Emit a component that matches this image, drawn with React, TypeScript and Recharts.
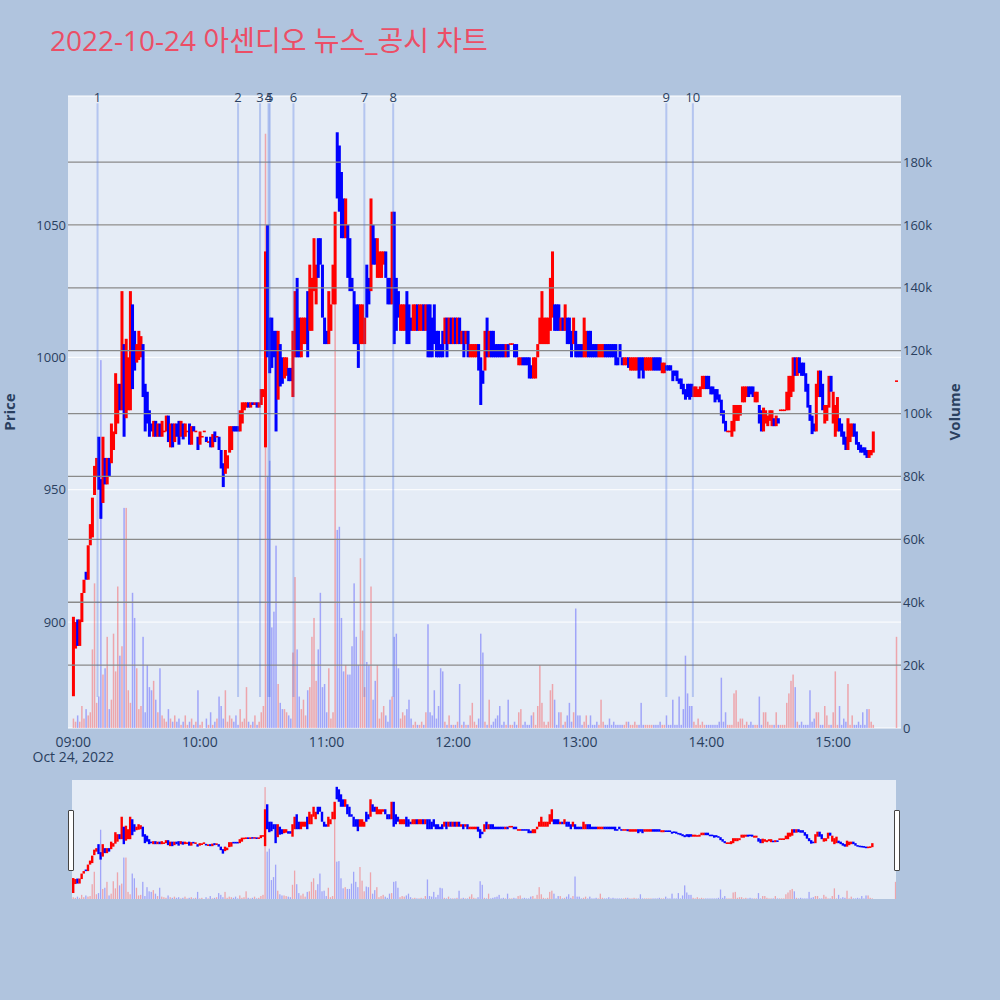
import React from "react"
import {
  ComposedChart,
  Bar,
  XAxis,
  YAxis,
  CartesianGrid,
  ReferenceLine,
} from "recharts"

const RED = "#ff0000"
const BLUE = "#0000ff"
const INK = "#2a3f5f"
const FONT = '"Open Sans", verdana, arial, sans-serif'
const TITLE_FONT = '"Open Sans", "Noto Sans CJK KR", sans-serif'

// 1-minute candles from 09:00 (index = minutes after 09:00)
const opens = [
  872, 890, 901, 891, 900, 911, 919, 916, 929, 932,
  948, 955, 970, 954, 945, 962, 952, 962, 960, 965,
  971, 975, 990, 980, 1005, 977, 980, 980, 1020, 1010,
  998, 999, 1000, 1005, 990, 987, 980, 975, 970, 976,
  970, 975, 970, 972, 972, 978, 966, 975, 968, 975,
  976, 970, 975, 970, 972, 975, 967, 974, 972, 970,
  967, 970, 972, 970, 968, 970, 966, 972, 970, 970,
  965, 960, 956, 958, 964, 965, 974, 974, 974, 972,
  975, 980, 981, 983, 981, 983, 982, 983, 981, 982,
  985, 966, 1050, 1015, 1015, 1010, 1010, 984, 1005, 1000,
  992, 993, 996, 996, 985, 1000, 1030, 1015, 1000, 1005,
  1005, 1025, 1010, 1010, 1025, 1020, 1045, 1045, 1035, 1015,
  1010, 1005, 1010, 1020, 1020, 1085, 1080, 1070, 1060, 1045,
  1050, 1045, 1030, 1025, 1020, 1020, 1005, 1005, 1005, 1035,
  1030, 1025, 1050, 1045, 1030, 1030, 1030, 1035, 1040, 1030,
  1030, 1020, 1055, 1030, 1025, 1010, 1010, 1010, 1025, 1020,
  1015, 1010, 1010, 1020, 1010, 1010, 1020, 1010, 1020, 1020,
  1015, 1020, 1010, 1010, 1005, 1010, 1005, 1015, 1005, 1015,
  1005, 1015, 1005, 1015, 1005, 1010, 1005, 1010, 1000, 1000,
  1000, 1000, 1005, 1000, 995, 995, 1015, 1000, 1010, 1010,
  1005, 1005, 1005, 1005, 1005, 1000, 1005, 1005, 1005, 1005,
  1005, 997, 997, 1000, 1000, 1000, 1000, 997, 992, 992,
  1000, 1005, 1005, 1005, 1005, 1005, 1010, 1015, 1020, 1020,
  1020, 1010, 1015, 1010, 1015, 1015, 1010, 1005, 1010, 1005,
  1005, 1005, 1000, 1000, 1010, 1010, 1005, 1005, 1005, 1000,
  1000, 1000, 1005, 1005, 1005, 1005, 1005, 1005, 1000, 1005,
  1000, 997, 997, 1000, 995, 995, 995, 995, 1000, 1000,
  1000, 995, 995, 995, 995, 1000, 1000, 1000, 1000, 994,
  994, 997, 997, 997, 995, 995, 995, 992, 992, 990,
  988, 990, 990, 990, 985, 985, 985, 985, 988, 988,
  993, 993, 989, 989, 988, 988, 986, 984, 980, 976,
  972, 972, 970, 972, 976, 976, 978, 983, 983, 985,
  989, 989, 989, 983, 983, 982, 980, 972, 975, 974,
  976, 974, 977, 974, 977, 980, 980, 980, 980, 980,
  985, 987, 1000, 993, 1000, 998, 998, 994, 990, 982,
  978, 975, 972, 985, 995, 990, 975, 976, 981, 993,
  975, 970, 972, 977, 975, 972, 970, 965, 968, 970,
  975, 972, 968, 967, 966, 966, 965, 962, 963, 964,
]
const closes = [
  902, 900, 891, 901, 911, 916, 916, 929, 937, 947,
  959, 962, 950, 939, 970, 952, 962, 955, 975, 972,
  994, 990, 980, 1025, 970, 1007, 1000, 1025, 988, 995,
  1005, 1010, 1008, 985, 972, 975, 970, 972, 976, 970,
  975, 970, 976, 972, 978, 968, 975, 966, 975, 970,
  967, 976, 969, 975, 972, 967, 974, 972, 972, 965,
  972, 970, 972, 968, 968, 966, 971, 968, 970, 965,
  958, 951, 965, 963, 974, 974, 972, 972, 972, 980,
  983, 983, 983, 981, 983, 982, 983, 981, 983, 988,
  988, 1040, 1000, 994, 996, 1000, 972, 1010, 989, 990,
  1000, 1000, 991, 991, 1010, 1025, 1000, 1000, 1015, 1015,
  1015, 1000, 1035, 1030, 1045, 1035, 1030, 1035, 1015, 1005,
  1005, 1025, 1020, 1035, 1055, 1060, 1055, 1045, 1045, 1060,
  1030, 1025, 1025, 1005, 1005, 996, 1020, 1020, 1015, 1015,
  1020, 1060, 1035, 1035, 1045, 1040, 1040, 1040, 1030, 1020,
  1020, 1055, 1005, 1010, 1015, 1020, 1020, 1020, 1005, 1005,
  1010, 1020, 1020, 1010, 1020, 1020, 1010, 1020, 1000, 1000,
  1000, 1005, 1000, 1000, 1000, 1000, 1015, 1000, 1015, 1005,
  1015, 1005, 1015, 1005, 1010, 1000, 1010, 1000, 1005, 1005,
  1005, 1005, 995, 982, 990, 1010, 1000, 1010, 1000, 1000,
  1000, 1000, 1000, 1000, 1000, 1005, 1000, 1005, 1005, 1000,
  1000, 1000, 1000, 997, 997, 997, 992, 992, 1000, 1000,
  1005, 1015, 1025, 1015, 1015, 1015, 1030, 1040, 1010, 1010,
  1010, 1015, 1010, 1020, 1005, 1005, 1000, 1015, 1000, 1000,
  1000, 1000, 1015, 1010, 1000, 1000, 1000, 1000, 1000, 1005,
  1005, 1005, 1000, 1000, 1000, 1000, 1000, 997, 997, 1000,
  997, 1000, 1000, 996, 1000, 1000, 1000, 1000, 992, 995,
  992, 1000, 1000, 1000, 1000, 995, 995, 995, 995, 998,
  998, 995, 995, 995, 991, 993, 991, 990, 988, 986,
  984, 985, 984, 985, 989, 989, 988, 989, 993, 993,
  988, 988, 986, 986, 983, 984, 983, 978, 975, 972,
  972, 972, 976, 982, 982, 982, 982, 989, 989, 989,
  985, 986, 985, 987, 987, 975, 972, 981, 980, 978,
  980, 980, 974, 978, 975, 980, 980, 980, 987, 993,
  993, 1000, 993, 1000, 994, 993, 993, 987, 981, 976,
  971, 972, 990, 995, 985, 980, 982, 982, 993, 987,
  987, 982, 985, 972, 970, 967, 965, 977, 975, 975,
  970, 967, 965, 964, 964, 963, 962, 965, 965, 972,
]

// volume per minute, thousands of shares
const volumesK = [
  3, 2, 4, 2, 7, 3, 6, 4, 5, 25,
  46, 8, 10, 117, 17, 19, 29, 6, 9, 30,
  18, 45, 23, 26, 70, 70, 12, 8, 43, 35,
  19, 6, 7, 29, 5, 20, 13, 12, 15, 9,
  5, 19, 4, 3, 2, 6, 3, 2, 4, 2,
  3, 1, 2, 4, 1, 2, 3, 1, 2, 12,
  1, 2, 0, 3, 1, 5, 1, 2, 3, 10,
  7, 3, 12, 2, 4, 3, 2, 4, 1, 6,
  2, 3, 13, 2, 1, 2, 4, 1, 2, 5,
  7, 189, 80, 85, 32, 37, 58, 14, 8, 6,
  6, 5, 4, 3, 24, 48, 25, 10, 6, 9,
  4, 12, 13, 29, 35, 15, 25, 43, 13, 14,
  5, 19, 3, 5, 149, 63, 64, 35, 18, 20,
  17, 17, 26, 46, 29, 20, 54, 31, 13, 21,
  20, 45, 9, 15, 20, 3, 5, 7, 4, 2,
  9, 10, 29, 30, 19, 3, 5, 4, 6, 9,
  3, 1, 2, 1, 1, 2, 1, 5, 33, 5,
  4, 12, 3, 7, 19, 18, 2, 1, 4, 1,
  1, 1, 2, 14, 1, 2, 1, 1, 4, 8,
  2, 1, 3, 30, 24, 2, 1, 9, 1, 2,
  3, 4, 7, 1, 2, 1, 9, 1, 1, 2,
  1, 5, 6, 1, 2, 1, 1, 4, 5, 1,
  7, 20, 8, 2, 1, 2, 12, 14, 9, 1,
  5, 5, 1, 2, 4, 8, 2, 5, 38, 4,
  4, 1, 2, 4, 1, 4, 1, 1, 2, 1,
  9, 2, 1, 1, 3, 1, 2, 1, 1, 1,
  1, 1, 2, 2, 1, 1, 2, 1, 1, 8,
  1, 1, 1, 1, 1, 1, 1, 1, 2, 1,
  1, 4, 1, 1, 9, 1, 1, 10, 1, 6,
  23, 11, 7, 7, 2, 1, 3, 1, 2, 1,
  1, 1, 1, 1, 1, 1, 2, 16, 2, 5,
  1, 1, 1, 11, 12, 2, 3, 3, 1, 2,
  1, 2, 1, 1, 1, 10, 1, 5, 5, 2,
  1, 1, 1, 5, 1, 1, 1, 1, 8, 11,
  15, 17, 13, 2, 1, 2, 1, 1, 1, 12,
  2, 3, 5, 5, 1, 1, 7, 4, 1, 1,
  5, 18, 1, 7, 1, 3, 2, 14, 1, 4,
  1, 1, 2, 1, 5, 1, 6, 6, 2, 1,
]

const closingAuction = { time: "15:30", price: 991, volumeK: 29 }

const newsTimes = [
  "09:11:30", "10:18:05", "10:28:30", "10:32:30", "10:33:05",
  "10:44:20", "11:17:55", "11:31:35", "13:41:00", "13:53:35",
]
const newsLabels = ["1", "2", "3", "4", "5", "6", "7", "8", "9", "10"]

const timeTicks = ["09:00", "10:00", "11:00", "12:00", "13:00", "14:00", "15:00"]
const dateLabel = "Oct 24, 2022"
const priceTicks = [900, 950, 1000, 1050]
const volumeTicks = [0, 20000, 40000, 60000, 80000, 100000, 120000, 140000, 160000, 180000]

const toMinute = (t: string) => {
  const [h, m, s] = t.split(":").map(Number)
  return (h - 9) * 60 + m + (s || 0) / 60
}

type Candle = { minute: number; open: number; close: number; volume: number }

const candles: Candle[] = closes.map((c, i) => ({
  minute: i,
  open: opens[i],
  close: c,
  volume: volumesK[i] * 1000,
}))
candles.push({
  minute: toMinute(closingAuction.time),
  open: closingAuction.price,
  close: closingAuction.price,
  volume: closingAuction.volumeK * 1000,
})

const tickMinutes = timeTicks.map(toMinute)
const newsMinutes = newsTimes.map(toMinute)

const bodyRange = (d: Candle) => [Math.min(d.open, d.close), Math.max(d.open, d.close)]

const candleShape = (w: number) => (props: any) => {
  const { x, y, width, height, payload } = props
  if (x == null || !payload) return <g />
  const cx = x + width / 2
  const top = height >= 0 ? y : y + height
  const h = Math.abs(height)
  const minH = 1.6
  const yy = h < minH ? top + h / 2 - minH / 2 : top
  const up = payload.close >= payload.open
  return <rect x={cx - w / 2} y={yy} width={w} height={Math.max(h, minH)} fill={up ? RED : BLUE} />
}

const volumeShape = (w: number) => (props: any) => {
  const { x, y, width, height, payload } = props
  if (x == null || !payload || !height) return <g />
  const cx = x + width / 2
  const up = payload.close >= payload.open
  return (
    <rect x={cx - w / 2} y={y} width={w} height={height} fill={up ? RED : BLUE} fillOpacity={0.3} />
  )
}

const TimeTick = (props: any) => {
  const { x, payload } = props
  const i = tickMinutes.indexOf(payload.value)
  return (
    <g>
      <text x={x} y={747} textAnchor="middle" fill={INK} fontSize={14} fontFamily={FONT}>
        {timeTicks[i]}
      </text>
      {i === 0 && (
        <text x={x} y={762} textAnchor="middle" fill={INK} fontSize={14} fontFamily={FONT}>
          {dateLabel}
        </text>
      )}
    </g>
  )
}

const NewsTick = (props: any) => {
  const { x, payload } = props
  const i = newsMinutes.indexOf(payload.value)
  return (
    <text x={x} y={102} textAnchor="middle" fill={INK} fontSize={13} fontFamily={FONT}>
      {newsLabels[i]}
    </text>
  )
}

const fmtVolume = (v: number) => (v === 0 ? "0" : `${v / 1000}k`)

const MAIN_X: [number, number] = [-2.5, 392.2]
const MINI_X: [number, number] = [-0.5, 390.3]
const PRICE_DOMAIN: [number, number] = [860, 1098.7]
const VOLUME_DOMAIN: [number, number] = [0, 201000]

export default function App() {
  return (
    <div
      style={{
        position: "absolute",
        left: 0,
        top: 0,
        width: 1000,
        height: 1000,
        background: "#b0c4de",
        overflow: "hidden",
      }}
    >
      <svg width={1000} height={80} style={{ position: "absolute", left: 0, top: 0 }}>
        <text x={50} y={50.5} fontSize={28} fill="#ec4e66" fontFamily={TITLE_FONT}>
          2022-10-24 아센디오 뉴스_공시 차트
        </text>
      </svg>

      <div style={{ position: "absolute", left: 0, top: 0 }}>
        <ComposedChart width={1000} height={780} data={candles} margin={{ top: 95, right: 0, bottom: 20, left: 0 }}>
          <CartesianGrid
            xAxisId="x"
            yAxisId="price"
            vertical={false}
            stroke="#ffffff"
            strokeWidth={1}
            fill="#e5ecf6"
            fillOpacity={1}
          />
          <XAxis
            xAxisId="x"
            dataKey="minute"
            type="number"
            domain={MAIN_X}
            allowDataOverflow
            ticks={tickMinutes}
            interval={0}
            height={32}
            axisLine={false}
            tickLine={false}
            tick={TimeTick}
          />
          <XAxis xAxisId="xv" dataKey="minute" type="number" domain={MAIN_X} allowDataOverflow hide />
          <XAxis
            xAxisId="news"
            orientation="top"
            dataKey="minute"
            type="number"
            domain={MAIN_X}
            allowDataOverflow
            ticks={newsMinutes}
            interval={0}
            height={1}
            axisLine={false}
            tickLine={false}
            tick={NewsTick}
          />
          <YAxis
            yAxisId="price"
            orientation="left"
            width={68}
            type="number"
            domain={PRICE_DOMAIN}
            allowDataOverflow
            ticks={priceTicks}
            interval={0}
            axisLine={false}
            tickLine={false}
            tickSize={0}
            tickMargin={2}
            tick={{ fill: INK, fontSize: 13, fontFamily: FONT }}
            label={{ value: "Price", angle: -90, position: "center", dx: -24, fill: INK, fontSize: 15, fontWeight: "bold", fontFamily: FONT }}
          />
          <YAxis
            yAxisId="vol"
            orientation="right"
            width={99}
            type="number"
            domain={VOLUME_DOMAIN}
            allowDataOverflow
            ticks={volumeTicks}
            interval={0}
            axisLine={false}
            tickLine={false}
            tickSize={0}
            tickMargin={2}
            tickFormatter={fmtVolume}
            tick={{ fill: INK, fontSize: 13, fontFamily: FONT, textAnchor: "start" }}
            label={{ value: "Volume", angle: -90, position: "center", dx: 4, fill: INK, fontSize: 15, fontWeight: "bold", fontFamily: FONT }}
          />
          {volumeTicks.slice(1).map((v) => (
            <ReferenceLine
              key={`g${v}`}
              xAxisId="x"
              yAxisId="vol"
              y={v}
              stroke="#8a8a8a"
              strokeWidth={1.3}
            />
          ))}
          {newsMinutes.map((m, i) => (
            <ReferenceLine
              key={newsLabels[i]}
              xAxisId="x"
              yAxisId="price"
              segment={[
                { x: m, y: 871.7 },
                { x: m, y: 1096 },
              ]}
              stroke="#4169e1"
              strokeOpacity={0.3}
              strokeWidth={2}
            />
          ))}
          <Bar xAxisId="xv" yAxisId="vol" dataKey="volume" shape={volumeShape(1.5)} isAnimationActive={false} />
          <Bar xAxisId="x" yAxisId="price" dataKey={bodyRange} shape={candleShape(3)} isAnimationActive={false} />
        </ComposedChart>
      </div>

      <div style={{ position: "absolute", left: 72, top: 780, width: 824, height: 119, background: "#e5ecf6" }}>
        <ComposedChart width={824} height={119} data={candles} margin={{ top: 0, right: 0, bottom: 0, left: 0 }}>
          <XAxis xAxisId="x" dataKey="minute" type="number" domain={MINI_X} allowDataOverflow hide />
          <XAxis xAxisId="xv" dataKey="minute" type="number" domain={MINI_X} allowDataOverflow hide />
          <YAxis yAxisId="price" type="number" domain={PRICE_DOMAIN} allowDataOverflow hide />
          <YAxis yAxisId="vol" type="number" domain={VOLUME_DOMAIN} allowDataOverflow hide />
          <Bar xAxisId="xv" yAxisId="vol" dataKey="volume" shape={volumeShape(1.3)} isAnimationActive={false} />
          <Bar xAxisId="x" yAxisId="price" dataKey={bodyRange} shape={candleShape(2.4)} isAnimationActive={false} />
        </ComposedChart>
      </div>

      <div
        style={{
          position: "absolute",
          left: 68,
          top: 810,
          width: 4,
          height: 59,
          background: "#ffffff",
          border: "1px solid #444",
          borderRadius: 1,
        }}
      />
      <div
        style={{
          position: "absolute",
          left: 894,
          top: 810,
          width: 4,
          height: 59,
          background: "#ffffff",
          border: "1px solid #444",
          borderRadius: 1,
        }}
      />
    </div>
  )
}
